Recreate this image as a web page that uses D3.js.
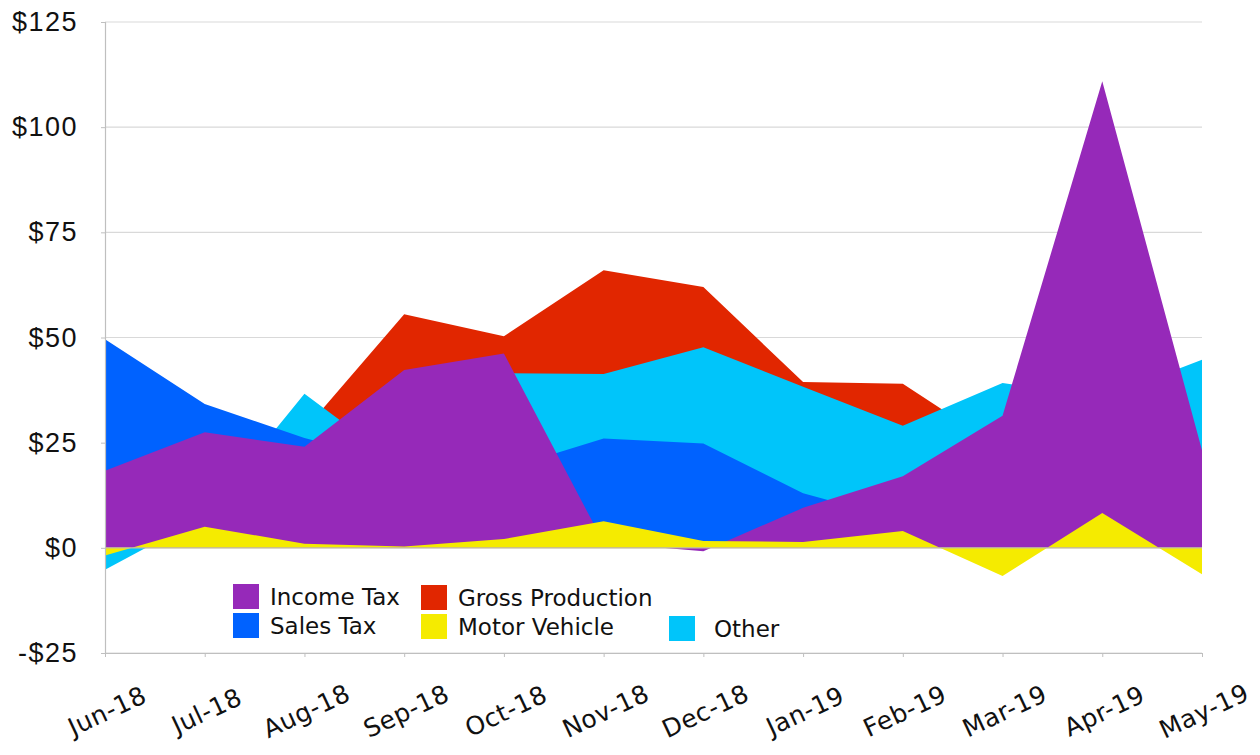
<!DOCTYPE html>
<html>
<head>
<meta charset="utf-8">
<script src="https://cdn.jsdelivr.net/npm/d3@7"></script>
<style>
  body { margin: 0; background: #fff; }
  svg { display: block; font-family: "DejaVu Sans", sans-serif; }
</style>
</head>
<body>
<svg id="chart"></svg>
<script>
// Data
const months = ["Jun-18", "Jul-18", "Aug-18", "Sep-18", "Oct-18", "Nov-18",
                "Dec-18", "Jan-19", "Feb-19", "Mar-19", "Apr-19", "May-19"];
const incomeTax       = [18.3, 27.5, 24.0, 42.3, 46.2, 1.2, -0.8, 9.5, 17.0, 31.4, 110.9, 23.2];
const salesTax        = [49.6, 34.2, 26.1, 20.0, 18.7, 26.0, 24.8, 13.0, 6.5, 8.0, 12.0, 10.0];
const grossProduction = [15.0, 20.0, 28.0, 55.5, 50.3, 66.0, 62.0, 39.4, 39.0, 23.5, 28.0, 25.0];
const motorVehicle    = [-1.8, 5.0, 1.0, 0.3, 2.1, 6.3, 1.6, 1.4, 4.0, -6.7, 8.3, -6.3];
const other           = [-5.2, 7.5, 36.6, 19.0, 41.5, 41.3, 47.7, 38.3, 29.0, 39.2, 35.6, 44.7];
const yTicks = [-25, 0, 25, 50, 75, 100, 125];

// back to front drawing order
const series = [
    { name: "Gross Production", values: grossProduction, color: "#e12600" },
    { name: "Other",            values: other,           color: "#00c5fa" },
    { name: "Sales Tax",        values: salesTax,        color: "#0062ff" },
    { name: "Income Tax",       values: incomeTax,       color: "#9629b9" },
    { name: "Motor Vehicle",    values: motorVehicle,    color: "#f5eb00" }
];

const width = 1260, height = 755;
const margin = { left: 105, right: 58, top: 22, bottom: 102 };

const svg = d3.select("#chart").attr("width", width).attr("height", height);

const x = d3.scalePoint().domain(months).range([margin.left, width - margin.right]);
const y = d3.scaleLinear().domain([-25, 125]).range([height - margin.bottom, margin.top]);

// Gridlines
svg.append("g")
    .selectAll("line")
    .data(yTicks)
    .enter()
    .append("line")
    .attr("x1", margin.left)
    .attr("x2", width - margin.right)
    .attr("y1", d => y(d))
    .attr("y2", d => y(d))
    .attr("stroke", "#d9d9d9")
    .attr("stroke-width", 1.2);

// Overlapping areas, each from zero
const area = d3.area()
    .x((d, i) => x(months[i]))
    .y0(y(0))
    .y1(d => y(d));

svg.append("g")
    .selectAll("path")
    .data(series)
    .enter()
    .append("path")
    .attr("d", d => area(d.values))
    .attr("fill", d => d.color);

// Zero line sits on top of the areas
svg.append("line")
    .attr("x1", margin.left)
    .attr("x2", width - margin.right)
    .attr("y1", y(0))
    .attr("y2", y(0))
    .attr("stroke", "#c8c0a0")
    .attr("stroke-width", 1.2);

// Y axis
const yAxis = svg.append("g")
    .attr("transform", `translate(${margin.left},0)`)
    .call(d3.axisLeft(y).tickValues(yTicks).tickSize(4).tickPadding(23)
        .tickFormat(d => (d < 0 ? "-$" : "$") + Math.abs(d)));
yAxis.select(".domain").attr("stroke", "#bfbfbf").attr("stroke-width", 1.2);
yAxis.selectAll(".tick line").attr("stroke", "#bfbfbf");
yAxis.selectAll("text")
    .attr("fill", "#111")
    .style("font-size", "27px")
    .style("letter-spacing", "1.5px");

// X axis at the bottom
const xAxis = svg.append("g")
    .attr("transform", `translate(0,${y(-25)})`)
    .call(d3.axisBottom(x).tickSize(4).tickSizeOuter(0).tickFormat(""));
xAxis.select(".domain").attr("stroke", "#bfbfbf").attr("stroke-width", 1.2);
xAxis.selectAll(".tick line").attr("stroke", "#bfbfbf");

svg.append("g")
    .selectAll("text")
    .data(months)
    .enter()
    .append("text")
    .attr("transform", d => `translate(${x(d) + 2},${y(-25) + 58}) rotate(-25)`)
    .attr("text-anchor", "middle")
    .attr("dy", "0.35em")
    .attr("fill", "#111")
    .style("font-size", "25px")
    .style("letter-spacing", "0.5px")
    .text(d => d);

// Legend
const legendItems = [
    { name: "Income Tax",       color: "#9629b9", x: 233, y: 584 },
    { name: "Gross Production", color: "#e12600", x: 421, y: 585 },
    { name: "Sales Tax",        color: "#0062ff", x: 233, y: 613 },
    { name: "Motor Vehicle",    color: "#f5eb00", x: 421, y: 614 },
    { name: "Other",            color: "#00c5fa", x: 669, y: 616 }
];

const legend = svg.append("g");
legendItems.forEach(d => {
    legend.append("rect")
        .attr("x", d.x)
        .attr("y", d.y)
        .attr("width", 26)
        .attr("height", 25)
        .attr("fill", d.color);
    legend.append("text")
        .attr("x", d.x + (d.name === "Other" ? 45 : 37))
        .attr("y", d.y + 13)
        .attr("dy", "0.35em")
        .attr("fill", "#111")
        .style("font-size", "23px")
        .text(d.name);
});
</script>
</body>
</html>
